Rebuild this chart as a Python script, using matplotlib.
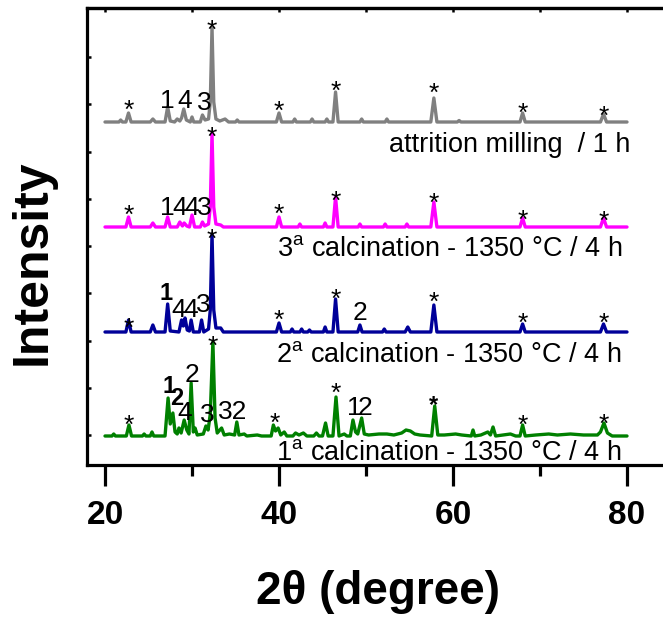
import matplotlib
matplotlib.use("Agg")
import matplotlib.pyplot as plt

plt.rcParams['font.family'] = ['Liberation Sans', 'DejaVu Sans']
plt.rcParams['mathtext.fontset'] = 'custom'
plt.rcParams['mathtext.rm'] = 'Liberation Sans'
plt.rcParams['mathtext.bf'] = 'Liberation Sans:bold'

# ---------------- data (heights above each pattern's own baseline) ----------------
gray_x = [20.0, 21.6, 21.8, 22.0, 22.4, 22.7, 23.0, 25.2, 25.5, 25.8, 26.9, 27.2, 27.5, 28.0, 28.3, 28.6,
          28.8, 29.05, 29.35, 29.8, 30.0, 30.2, 30.95, 31.2, 31.5, 31.9, 32.1, 32.3, 32.5, 32.75, 33.2,
          33.8, 34.2, 35.0, 35.2, 35.4, 39.7, 40.0, 40.3, 41.6, 41.8, 42.0, 43.6, 43.8, 44.0, 45.3, 45.5,
          45.7, 46.2, 46.5, 46.8, 49.3, 49.5, 49.7, 52.2, 52.4, 52.6, 57.45, 57.8, 58.15, 60.5, 60.7, 60.9,
          67.7, 68.0, 68.3, 76.95, 77.3, 77.65, 80.0]
gray_h = [0, 0, 2, 0, 0, 9, 0, 0, 3, 0, 0, 15, 1, 0, 3, 1,
          4, 13, 2, 0, 5, 0, 0, 7, 2, 3, 20, 95, 20, 3, 1,
          3, 0, 0, 2, 0, 0, 9, 0, 0, 3, 0, 0, 3, 0, 0, 3,
          0, 0, 30, 0, 0, 3, 0, 0, 3, 0, 0, 24, 0, 0, 1.5, 0,
          0, 9, 0, 0, 8, 0, 0]

magenta_x = [20.0, 22.4, 22.7, 23.0, 25.2, 25.5, 25.8, 26.9, 27.2, 27.5, 28.3, 28.6, 28.9, 29.1, 29.4,
             29.7, 30.0, 30.3, 30.95, 31.2, 31.45, 31.9, 32.1, 32.3, 32.5, 32.75, 33.3, 33.6, 39.7, 40.0,
             40.3, 42.2, 42.4, 42.6, 45.1, 45.3, 45.5, 46.2, 46.5, 46.8, 49.1, 49.3, 49.5, 52.0, 52.2, 52.4,
             54.5, 54.7, 54.9, 57.45, 57.8, 58.15, 67.7, 68.0, 68.3, 76.95, 77.3, 77.65, 80.0]
magenta_h = [0, 0, 10, 0, 0, 4, 0, 0, 10, 0, 0, 5, 1, 4, 1,
             0, 12, 0, 0, 5, 1, 3, 20, 94, 20, 3, 2, 0, 0, 10,
             0, 0, 3, 0, 0, 4, 0, 0, 30, 0, 0, 3, 0, 0, 3, 0,
             0, 3, 0, 0, 25, 0, 0, 9, 0, 0, 9, 0, 0]

blue_x = [20.0, 22.4, 22.7, 23.0, 25.2, 25.5, 25.8, 26.9, 27.2, 27.5, 28.5, 28.8, 29.0, 29.2, 29.45,
          29.7, 29.9, 30.15, 30.85, 31.1, 31.35, 31.9, 32.1, 32.3, 32.5, 32.75, 33.3, 33.6, 39.7, 40.0,
          40.3, 41.3, 41.5, 41.7, 42.4, 42.6, 42.8, 43.3, 43.5, 43.7, 45.1, 45.3, 45.5, 46.2, 46.5, 46.8,
          49.05, 49.3, 49.55, 51.9, 52.1, 52.3, 54.5, 54.8, 55.1, 57.45, 57.8, 58.15, 67.7, 68.0, 68.3,
          76.95, 77.3, 77.65, 80.0]
blue_h = [0, 0, 12, 0, 0, 7, 0, 0, 28, 1, 0, 12, 6, 14, 2,
          1, 12, 0, 0, 12, 0, 3, 22, 98, 22, 4, 4, 0, 0, 9,
          0, 0, 3, 0, 0, 3, 0, 0, 2, 0, 0, 5, 0, 0, 33, 0,
          0, 7, 0, 0, 3, 0, 0, 5, 0, 0, 27, 0, 0, 8, 0,
          0, 8, 0, 0]

green_x = [20.0, 20.8, 21.0, 21.2, 22.45, 22.75, 23.05, 24.3, 24.5, 24.7, 25.2, 25.4, 25.6, 26.9, 27.25,
           27.5, 27.8, 28.05, 28.3, 28.5, 28.75, 29.1, 29.4, 29.65, 29.9, 30.15, 30.35, 30.6, 31.3, 31.6,
           31.85, 32.1, 32.4, 32.65, 32.9, 33.4, 33.7, 34.3, 34.9, 35.15, 35.4, 36.0, 36.3, 37.5, 38.0,
           39.1, 39.35, 39.6, 39.9, 40.2, 40.6, 40.9, 41.6, 41.9, 42.3, 42.8, 43.2, 44.0, 44.3, 44.6,
           45.0, 45.35, 45.65, 46.2, 46.55, 46.9, 47.5, 47.8, 48.2, 48.5, 48.8, 49.05, 49.5, 49.8, 50.3,
           51.5, 52.4, 53.2, 54.1, 54.6, 55.1, 55.6, 56.2, 57.55, 57.9, 58.25, 59.0, 60.3, 61.0, 62.1,
           62.3, 62.5, 63.2, 64.0, 64.3, 64.6, 64.9, 66.6, 67.2, 67.7, 68.0, 68.3, 69.5, 71.0, 72.0,
           73.5, 75.0, 76.6, 76.95, 77.35, 77.75, 78.3, 80.0]
green_h = [0, 0, 2, 0, 0, 11, 0, 0, 2, 0, 0, 4, 0, 0, 38,
           12, 23, 4, 2, 8, 3, 16, 6, 2, 53, 4, 8, 1, 2, 10,
           6, 22, 94, 18, 3, 8, 1, 2, 1, 14, 1, 2, 0, 1, 0,
           0, 11, 5, 8, 1, 4, 0, 0, 3, 1, 3, 0, 0, 3, 0,
           0, 13, 0, 0, 39, 0, 2, 0, 0, 16, 4, 2, 18, 2, 1,
           2, 2, 1, 3, 6, 5, 2, 1, 0, 30, 1, 1, 2, 1, 0,
           6, 0, 1, 4, 1, 9, 0, 2, 0, 0, 11, 0, 1, 2, 1,
           2, 1, 1, 4, 13, 3, 0, 0]

series_x = [gray_x, magenta_x, blue_x, green_x]
series_h = [gray_h, magenta_h, blue_h, green_h]
offsets = [343, 238, 133, 29]
colors = ['#808080', '#ff00ff', '#000099', '#008000']

sample_labels = ['attrition milling  / 1 h',
                 r'3$^{\rm a}$ calcination - 1350 °C / 4 h',
                 r'2$^{\rm a}$ calcination - 1350 °C / 4 h',
                 r'1$^{\rm a}$ calcination - 1350 °C / 4 h']
sample_label_x = [80.35, 79.5, 79.3, 79.3]
sample_label_y = [313, 209, 103, 5]

# peak markers: text, x, baseline y, bold
marks_text = ['*', '1', '4', '3', '*', '*', '*', '*', '*', '*',
              '*', '1', '4', '4', '3', '*', '*', '*', '*', '*', '*',
              '*', '1', '4', '4', '3', '*', '*', '*', '2', '*', '*', '*',
              '*', '1', '2', '4', '2', '3', '*', '32', '*', '*', '1', '2', '*', '*', '*']
marks_x = [22.7, 27.2, 29.2, 31.4, 32.3, 40.0, 46.5, 57.8, 68.0, 77.3,
           22.7, 27.2, 28.6, 30.0, 31.4, 32.3, 40.0, 46.5, 57.8, 68.0, 77.3,
           22.7, 27.0, 28.5, 29.8, 31.3, 32.3, 40.0, 46.5, 49.3, 57.8, 68.0, 77.3,
           22.7, 27.4, 28.3, 29.2, 30.0, 31.7, 32.4, 34.65, 39.5, 46.5, 48.7, 49.9, 57.8, 68.0, 77.3]
marks_y = [347, 357, 357, 355, 427, 346, 366, 364, 344, 341,
           242, 250, 250, 250, 250, 320, 243, 256, 254, 237, 236,
           129, 165, 148, 148, 153, 218, 137, 158, 145, 155, 134, 134,
           32, 72, 60, 45, 83, 43, 111, 46, 34, 64, 50, 50, 53, 32, 33]
marks_bold = [False] * 22 + [True] + [False] * 11 + [True, True] + [False] * 9 + [True] + [False] * 3

xticks_major = [20, 40, 60, 80]
xticks_minor = [30, 50, 70]
yticks_inner = [30, 77, 124, 172, 219, 266, 313, 361, 408]

# ---------------- figure ----------------
fig = plt.figure(figsize=(6.63, 6.21), dpi=100)
ax = fig.add_axes([87 / 663, 1 - 465 / 621, (670.5 - 87) / 663, (465 - 8) / 621])

for xs, hs, off, c in zip(series_x, series_h, offsets, colors):
    ax.plot(xs, [h + off for h in hs], color=c, lw=2.4, solid_joinstyle='round',
            solid_capstyle='round')

for t, x, y in zip(sample_labels, sample_label_x, sample_label_y):
    ax.text(x, y, t, ha='right', va='baseline', fontsize=19.5, color='black')

for t, x, y, b in zip(marks_text, marks_x, marks_y, marks_bold):
    ax.text(x, y, t, ha='center', va='baseline', fontsize=19 if not b else 17,
            fontweight='bold' if b else 'normal', color='black')

ax.set_xlim(17.93, 85)
ax.set_ylim(0, 457)

for s in ax.spines.values():
    s.set_linewidth(2.3)

ax.set_xticks(xticks_major)
ax.set_xticks(xticks_minor, minor=True)
ax.tick_params(axis='x', which='major', direction='out', length=15, width=2.3,
               labelsize=24, pad=10)
ax.tick_params(axis='x', which='minor', direction='out', length=8, width=2.3)
for lab in ax.get_xticklabels():
    lab.set_fontweight('bold')

ax.set_yticks(yticks_inner)
ax.tick_params(axis='y', which='major', direction='in', length=3, width=1.8, labelleft=False)

sec = ax.secondary_xaxis('top')
sec.set_xticks(xticks_major + xticks_minor)
sec.tick_params(direction='in', length=3, width=1.8, labeltop=False)
sec.spines['top'].set_linewidth(2.3)

fig.text(33 / 663, 1 - 262 / 621, 'Intensity', rotation=90, ha='center', va='center',
         fontsize=36, fontweight='bold')
fig.text(378 / 663, 1 - 592 / 621, '2θ (degree)', ha='center', va='center',
         fontsize=33, fontweight='bold')

fig.savefig('out.png', dpi=100)
